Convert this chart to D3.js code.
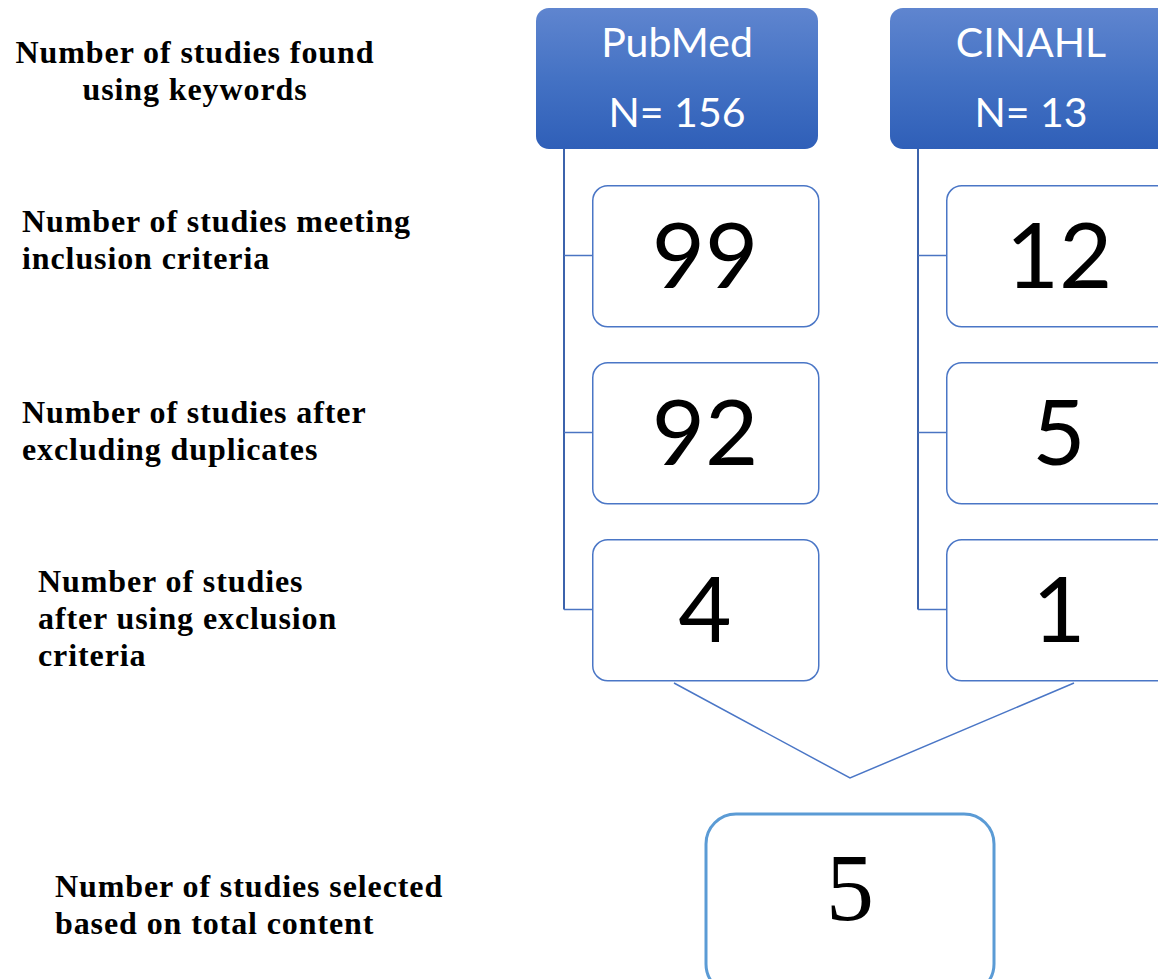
<!DOCTYPE html>
<html>
<head>
<meta charset="utf-8">
<script src="https://cdn.jsdelivr.net/npm/d3@7"></script>
<style>
  html, body { margin: 0; padding: 0; background: #ffffff; }
  svg { display: block; }
</style>
</head>
<body>
<div id="chart"></div>
<script>
// ---- data ----
const sources = ["PubMed", "CINAHL"];
const sourceTotals = [156, 13];
const stages = ["inclusion", "duplicates", "exclusion"];
const pubmedCounts = [99, 92, 4];
const cinahlCounts = [12, 5, 1];
const finalCount = 5;
const stageLabels = [
  ["Number of studies found", "using keywords"],
  ["Number of studies meeting", "inclusion criteria"],
  ["Number of studies after", "excluding duplicates"],
  ["Number of studies", "after using exclusion", "criteria"],
  ["Number of studies selected", "based on total content"]
];

// ---- layout ----
const W = 1158, H = 979;
const svg = d3.select("#chart").append("svg").attr("width", W).attr("height", H);

const defs = svg.append("defs");
const grad = defs.append("linearGradient").attr("id", "hdr").attr("x1", 0).attr("y1", 0).attr("x2", 0).attr("y2", 1);
grad.append("stop").attr("offset", "0%").attr("stop-color", "#5f85cf");
grad.append("stop").attr("offset", "50%").attr("stop-color", "#4472c4");
grad.append("stop").attr("offset", "100%").attr("stop-color", "#2f5fb8");

// column scale (left edge of header box)
const xCol = d3.scalePoint().domain(sources).range([536, 890]);
const headerW = 282, headerH = 141, headerY = 8;
const boxOffset = 56, boxW = 226, boxH = 141;
// stage scale (top of each stage box)
const yStage = d3.scalePoint().domain(stages).range([185, 539]);
const lineOffset = 28;

const countsBySource = { PubMed: pubmedCounts, CINAHL: cinahlCounts };
const totalsBySource = {};
sources.forEach((s, i) => totalsBySource[s] = sourceTotals[i]);

const boxFont = "Lato, 'Open Sans', sans-serif";

sources.forEach(src => {
  const x0 = xCol(src);
  const g = svg.append("g");
  const lx = x0 + lineOffset;
  const lastMid = yStage(stages[stages.length - 1]) + boxH / 2;

  // vertical connector
  g.append("line")
    .attr("x1", lx).attr("x2", lx)
    .attr("y1", headerY + headerH).attr("y2", lastMid)
    .attr("stroke", "#3c63ac").attr("stroke-width", 2);

  // ticks
  g.selectAll("line.tick").data(stages).enter().append("line")
    .attr("class", "tick")
    .attr("x1", lx).attr("x2", x0 + boxOffset)
    .attr("y1", d => yStage(d) + boxH / 2)
    .attr("y2", d => yStage(d) + boxH / 2)
    .attr("stroke", "#4a74c2").attr("stroke-width", 1.5);

  // header box
  g.append("rect")
    .attr("x", x0).attr("y", headerY)
    .attr("width", headerW).attr("height", headerH)
    .attr("rx", 13).attr("ry", 13)
    .attr("fill", "url(#hdr)");
  g.append("text")
    .attr("x", x0 + headerW / 2).attr("y", 57)
    .attr("text-anchor", "middle")
    .attr("fill", "#ffffff")
    .style("font-family", boxFont).style("font-weight", 400).style("font-size", "41px")
    .text(src);
  g.append("text")
    .attr("x", x0 + headerW / 2).attr("y", 127)
    .attr("text-anchor", "middle")
    .attr("fill", "#ffffff")
    .style("font-family", boxFont).style("font-weight", 400).style("font-size", "41px")
    .text("N= " + totalsBySource[src]);

  // stage boxes
  const counts = countsBySource[src];
  const sg = g.selectAll("g.stage").data(stages).enter().append("g").attr("class", "stage");
  sg.append("rect")
    .attr("x", x0 + boxOffset + 0.75)
    .attr("y", d => yStage(d) + 0.75)
    .attr("width", boxW).attr("height", boxH)
    .attr("rx", 15).attr("ry", 15)
    .attr("fill", "#ffffff")
    .attr("stroke", "#4a76c6").attr("stroke-width", 1.5);
  sg.append("text")
    .attr("x", x0 + boxOffset + boxW / 2)
    .attr("y", d => yStage(d) + boxH / 2 + 32)
    .attr("text-anchor", "middle")
    .attr("fill", "#000000")
    .style("font-family", boxFont).style("font-weight", 400).style("font-size", "92px")
    .text((d, i) => counts[i]);
});

// converging lines
const lastStage = stages[stages.length - 1];
const mergeY = yStage(lastStage) + boxH + 3;
const apex = [850, 778];
const mergePts = [
  [xCol("PubMed") + boxOffset + 82, mergeY],
  apex,
  [xCol("CINAHL") + boxOffset + 128, mergeY]
];
svg.append("path")
  .attr("d", d3.line()(mergePts))
  .attr("fill", "none")
  .attr("stroke", "#4a76c6").attr("stroke-width", 1.5);

// final box
const fx = 706, fy = 814, fw = 288, fh = 180;
svg.append("rect")
  .attr("x", fx).attr("y", fy).attr("width", fw).attr("height", fh)
  .attr("rx", 30).attr("ry", 30)
  .attr("fill", "#ffffff")
  .attr("stroke", "#5b9bd5").attr("stroke-width", 3);
svg.append("text")
  .attr("x", fx + fw / 2).attr("y", 920)
  .attr("text-anchor", "middle")
  .attr("fill", "#000000")
  .style("font-family", "'Liberation Serif', 'Times New Roman', serif")
  .style("font-size", "96px")
  .text(finalCount);

// left labels
const labelPos = [
  { x: 195, y: 63, anchor: "middle" },
  { x: 22, y: 232, anchor: "start" },
  { x: 22, y: 423, anchor: "start" },
  { x: 38, y: 592, anchor: "start" },
  { x: 55, y: 897, anchor: "start" }
];
const lineH = 37;
stageLabels.forEach((lines, i) => {
  const p = labelPos[i];
  const t = svg.append("text")
    .attr("text-anchor", p.anchor)
    .attr("fill", "#000000")
    .style("font-family", "'Liberation Serif', 'DejaVu Serif', serif")
    .style("font-weight", "bold")
    .style("font-size", "32px")
    .style("letter-spacing", "0.9px");
  lines.forEach((ln, j) => {
    t.append("tspan").attr("x", p.x).attr("y", p.y + j * lineH).text(ln);
  });
});
</script>
</body>
</html>
